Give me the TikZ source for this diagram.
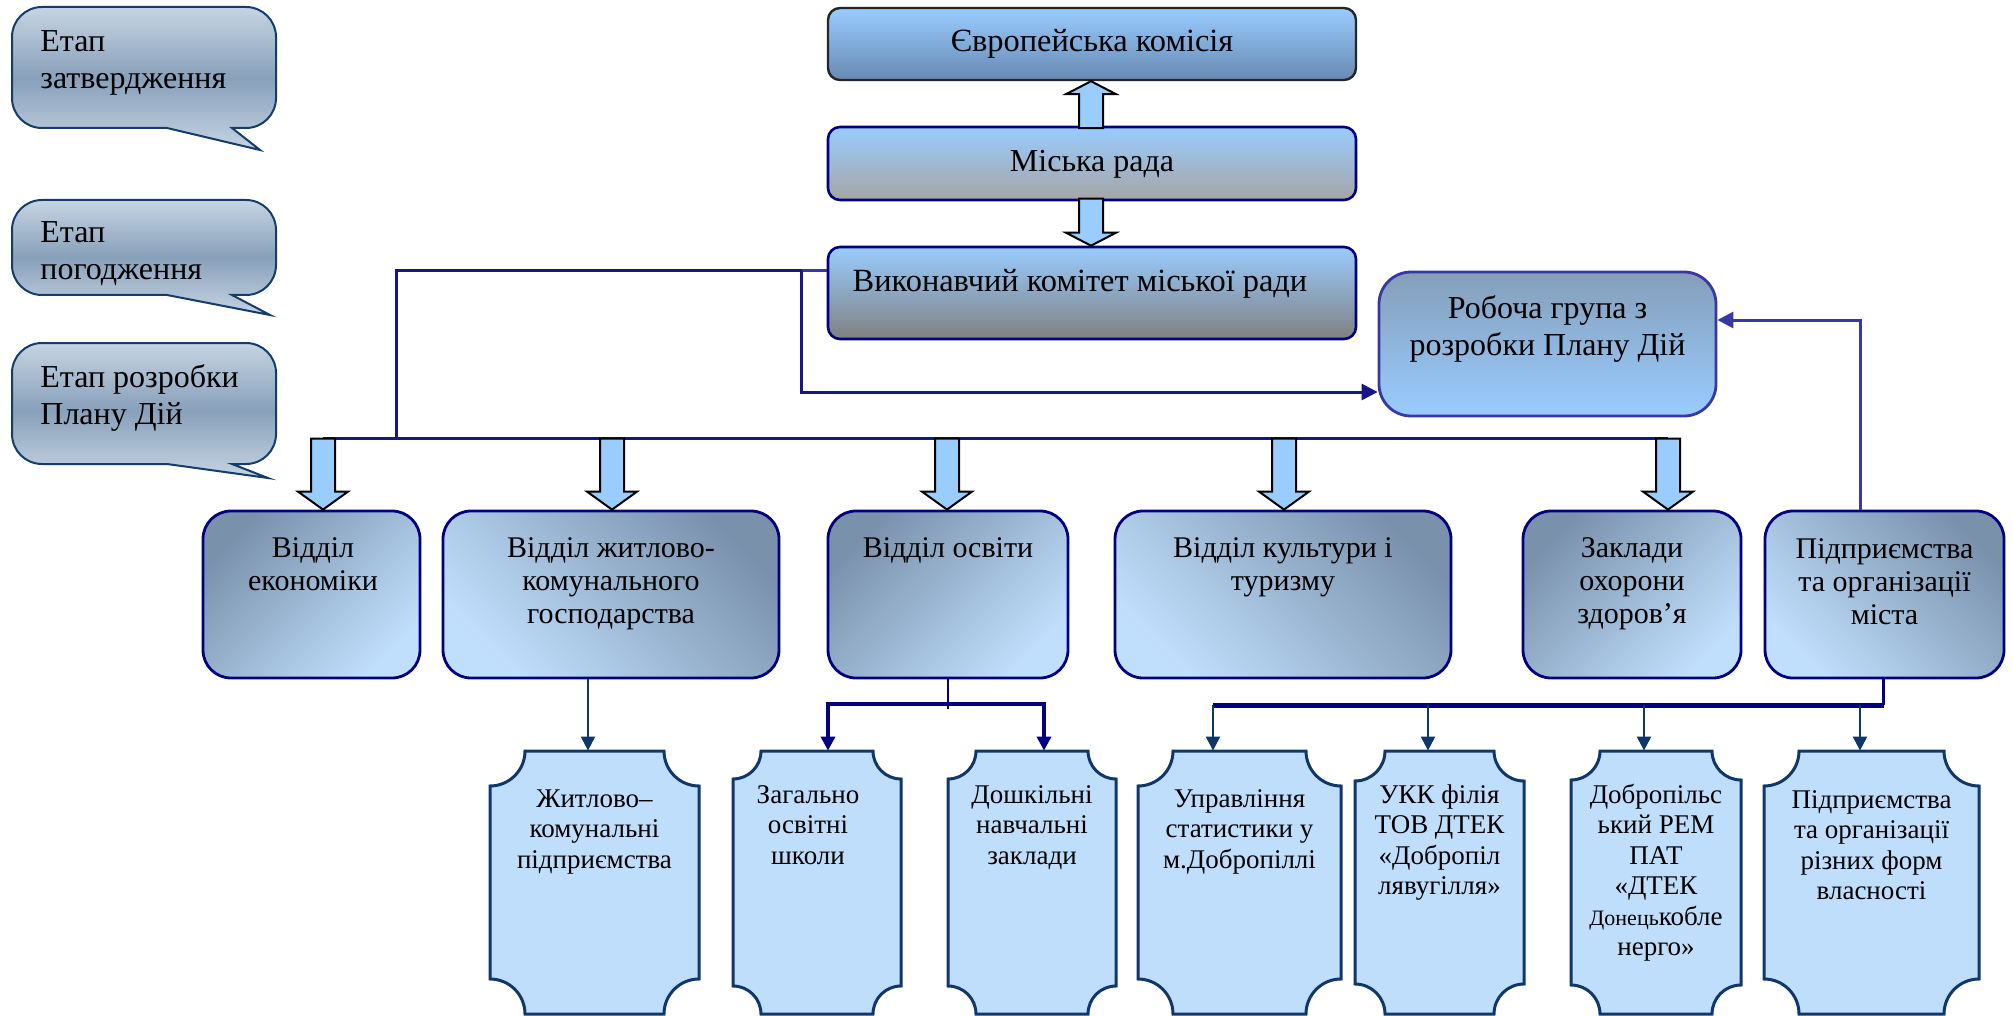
\documentclass[tikz,border=0pt]{standalone}
\usepackage{fontspec}
\setmainfont{Liberation Serif}
\newfontfamily\tnr{Liberation Serif}
\usetikzlibrary{calc,arrows.meta}
\definecolor{lb}{RGB}{153,204,255}
\definecolor{ekbot}{RGB}{104,138,178}
\definecolor{grayA}{RGB}{165,165,165}
\definecolor{grayB}{RGB}{128,128,128}
\definecolor{rgtop}{RGB}{133,158,185}
\definecolor{mdk}{RGB}{122,145,172}
\definecolor{mlt}{RGB}{192,223,252}
\definecolor{navyA}{RGB}{22,22,132}
\definecolor{navyL}{RGB}{55,55,165}
\definecolor{bordB}{RGB}{0,0,128}
\definecolor{plfill}{RGB}{190,222,252}
\definecolor{pldraw}{RGB}{15,55,105}
\definecolor{bubA}{RGB}{198,212,226}
\definecolor{bubB}{RGB}{136,160,186}
\definecolor{bubdraw}{RGB}{20,60,110}

\newcommand\bx[6]{\node[#6, inner sep=0pt, minimum width={(#4-#2)*0.5pt}, minimum height={(#5-#3)*0.5pt}] (#1) at ({(#2+#4)/2},{(#3+#5)/2}) {};}
\newcommand\T[6]{\node[inner sep=0pt, anchor=north, align=center, font=\tnr\fontsize{#4pt}{#5pt}\selectfont] (#1) at (#2,{#3-1.8*#4}) {\rule{0pt}{0.9em}#6};}
\newcommand\TL[4]{\node[inner sep=0pt, anchor=north west, align=left, font=\tnr\fontsize{16pt}{18.5pt}\selectfont] (#1) at (#2,{#3-28.8}) {\rule{0pt}{0.9em}#4};}
\newcommand\plq[4]{%
\path[plq] (#2+#4,751) -- (#3-#4,751) .. controls (#3-#4,751+0.552*#4) and (#3-0.552*#4,751+#4) .. (#3,751+#4) -- (#3,1014-#4) .. controls (#3-0.552*#4,1014-#4) and (#3-#4,1014-0.552*#4) .. (#3-#4,1014) -- (#2+#4,1014) .. controls (#2+#4,1014-0.552*#4) and (#2+0.552*#4,1014-#4) .. (#2,1014-#4) -- (#2,751+#4) .. controls (#2+0.552*#4,751+#4) and (#2+#4,751+0.552*#4) .. (#2+#4,751) -- cycle;
\node[inner sep=0pt, minimum width={(#3-#2)*0.5pt}, minimum height=131.5pt] (#1) at ({(#2+#3)/2},882.5) {};}
\newcommand\bub[4]{%
\path[bubst] (167,#2) -- (#3,#4) -- (232,#2) -- (246,#2) .. controls (262.6,#2) and (276,#2-13.4) .. (276,#2-30) -- (276,#1+30) .. controls (276,#1+13.4) and (262.6,#1) .. (246,#1) -- (42,#1) .. controls (25.4,#1) and (12,#1+13.4) .. (12,#1+30) -- (12,#2-30) .. controls (12,#2-13.4) and (25.4,#2) .. (42,#2) -- cycle;}
\newcommand\bdown[4]{\draw[barrow, shift={(#1.north)}] (#2-12,-#3) -- (#2+12,-#3) -- (#2+12,-#4) -- (#2+25,-#4) -- (#2,0) -- (#2-25,-#4) -- (#2-12,-#4) -- cycle;}
\newcommand\bup[4]{\draw[barrow, shift={(#1.south)}] (#2-12,#3) -- (#2+12,#3) -- (#2+12,#4) -- (#2+25,#4) -- (#2,0) -- (#2-25,#4) -- (#2-12,#4) -- cycle;}

\begin{document}
\begin{tikzpicture}[x=0.5pt,y=-0.5pt,
  font=\tnr,
  barrow/.style={fill=lb, draw=black, line width=1pt},
  topA/.style={rounded corners=6pt, draw=black!85, line width=1.2pt, top color=lb, bottom color=ekbot},
  topB/.style={rounded corners=6pt, draw=bordB, line width=1.3pt, top color=lb, bottom color=#1},
  rgst/.style={rounded corners=16pt, draw=navyL, line width=1.4pt, top color=rgtop, bottom color=lb},
  midL/.style={rounded corners=14pt, draw=bordB, line width=1.4pt, top color=mdk, bottom color=mlt, shading angle=45},
  midR/.style={rounded corners=14pt, draw=bordB, line width=1.4pt, top color=mdk, bottom color=mlt, shading angle=-45},
  plq/.style={fill=plfill, draw=pldraw, line width=1.5pt},
  bubst/.style={draw=bubdraw, line width=1pt, top color=bubA, bottom color=bubA, middle color=bubB},
  nline/.style={draw=navyA, line width=1.5pt},
  lline/.style={draw=navyL, line width=1.5pt},
  bline/.style={draw=bordB, line width=2pt},
  dline/.style={draw=pldraw, line width=1.1pt},
  tipA/.style={-{Triangle[length=8pt,width=8pt]}},
  tipB/.style={-{Triangle[length=7pt,width=7pt]}}
]
\useasboundingbox (0,0) rectangle (2013,1016);

% speech bubbles
\bub{7}{128}{260}{150}
\bub{200}{295}{270}{315}
\bub{343}{464}{268}{478}
\TL{b1T}{40}{51}{Етап\\затвердження}
\TL{b2T}{40}{242}{Етап\\погодження}
\TL{b3T}{40}{387}{Етап розробки\\Плану Дій}

% top boxes
\bx{ek}{828}{8}{1356}{80}{topA}
\bx{mr}{828}{127}{1356}{200}{topB=grayA}
\bx{vk}{828}{247}{1356}{339}{topB=grayB}
\bx{rg}{1379}{272}{1716}{416}{rgst}

% middle boxes
\bx{econ}{203}{511}{420}{678}{midL}
\bx{zhkg}{443}{511}{779}{678}{midR}
\bx{osv}{828}{511}{1068}{678}{midL}
\bx{kult}{1115}{511}{1451}{678}{midR}
\bx{zakl}{1523}{511}{1741}{678}{midL}
\bx{pidpr}{1765}{511}{2004}{678}{midR}

% bottom plaques
\plq{pA}{490}{699}{35}
\plq{pB}{733}{901}{28}
\plq{pC}{948}{1116}{28}
\plq{pD}{1138}{1341}{35}
\plq{pE}{1355}{1524}{30}
\plq{pF}{1571}{1741}{29}
\plq{pG}{1764}{1979}{35}

% block arrows top
\bup{ek}{-1}{47}{13}
\bdown{vk}{-1}{47}{13}

% bus and block arrows to middle row
\coordinate (busL) at ($(econ.north)+(11.5,-71)$);
\coordinate (busR) at ($(zakl.north)+(36,-71)$);
\coordinate (vkL) at ($(vk.north west)+(0,25)$);
\coordinate (vkJ) at ($(vk.north west)+(-25,25)$);
\draw[nline] (busL) -- (busR);
\draw[lline] (vkL) -- (vkJ);
\draw[nline] (vkJ) -| ($(busL)+(73,0)$);
\draw[nline, tipA] (vkJ) |- ($(rg.west)+(0,48)$);
\draw[lline, tipA] ($(pidpr.north)+(-24.5,0)$) |- ($(rg.east)+(0,-24)$);
\bdown{econ}{11.5}{71}{18}
\bdown{zhkg}{1}{71}{18}
\bdown{osv}{-1}{71}{18}
\bdown{kult}{1}{71}{18}
\bdown{zakl}{36}{71}{18}

% lower connectors
\draw[dline, tipB] ($(zhkg.south)+(-23,0)$) -- ($(pA.north)+(-6.5,0)$);
\coordinate (ob) at ($(osv.south)+(0,25)$);
\draw[bline, line width=1.3pt] (osv.south) -- ($(osv.south)+(0,30)$);
\draw[bline, tipB] (ob) -| ($(pB.north)+(11,0)$);
\draw[bline, tipB] (ob) -| ($(pC.north)+(12,0)$);
\coordinate (pb) at ($(pidpr.south)+(-1,26)$);
\coordinate (dD) at ($(pD.north)+(-26.5,0)$);
\coordinate (dE) at ($(pE.north)+(-11.5,0)$);
\coordinate (dF) at ($(pF.north)+(-12,0)$);
\coordinate (dG) at ($(pG.north)+(-11.5,0)$);
\draw[bline, line width=1.5pt] ($(pidpr.south)+(-1,0)$) -- (pb);
\draw[bline, line width=2.4pt] (pb) -- (pb -| dD);
\foreach \c in {dD,dE,dF,dG} \draw[dline, tipB] (pb -| \c) -- (\c);

% texts
\T{ekT}{1092}{51}{16.2}{18}{Європейська комісія}
\T{mrT}{1092}{171}{16}{18}{Міська рада}
\T{vkT}{1080}{291}{16.2}{18}{Виконавчий комітет міської ради}
\T{rgT}{1547.5}{318}{16}{18.5}{Робоча група з\\розробки Плану Дій}
\T{econT}{313}{557}{15}{16.5}{Відділ\\економіки}
\T{zhkgT}{611}{557}{15}{16.5}{Відділ житлово-\\комунального\\господарства}
\T{osvT}{948}{557}{15}{16.5}{Відділ освіти}
\T{kultT}{1283}{557}{15}{16.5}{Відділ культури і\\туризму}
\T{zaklT}{1632}{557}{15}{16.5}{Заклади\\охорони\\здоров’я}
\T{pidprT}{1884.5}{558}{15}{16.5}{Підприємства\\та організації\\міста}
\T{pAT}{594.5}{807}{13.5}{15.25}{Житлово–\\комунальні\\підприємства}
\T{pBT}{808}{803}{13.5}{15.25}{Загально\\освітні\\школи}
\T{pCT}{1032}{803}{13.5}{15.25}{Дошкільні\\навчальні\\заклади}
\T{pDT}{1239.5}{807}{13.5}{15.25}{Управління\\статистики у\\м.Добропіллі}
\T{pET}{1439.5}{803}{13.5}{15.25}{УКК філія\\ТОВ ДТЕК\\«Добропіл\\лявугілля»}
\T{pFT}{1656}{803}{13.5}{15.25}{Добропільс\\ький РЕМ\\ПАТ\\«ДТЕК\\{\fontsize{11pt}{15.25pt}\selectfont Донець}кобле\\нерго»}
\T{pGT}{1871.5}{808}{13.5}{15.25}{Підприємства\\та організації\\різних форм\\власності}
\end{tikzpicture}
\end{document}
